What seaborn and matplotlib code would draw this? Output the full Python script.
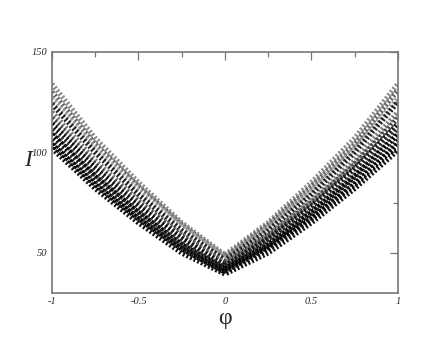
import numpy as np
import pandas as pd
import matplotlib
matplotlib.use("Agg")
import matplotlib.pyplot as plt
import seaborn as sns
from matplotlib.ticker import MultipleLocator

phi = [-1.0, -0.75, -0.5, -0.25, 0.0, 0.25, 0.5, 0.75, 1.0]

# I(phi) for each curve
c01 = [134, 107, 85, 65, 49, 65, 85, 107, 134]
c02 = [130, 104, 83, 64, 48, 64, 83, 104, 131]
c03 = [127, 102, 81, 63, 47.5, 63, 81, 102, 127]
c04 = [124, 100, 79, 61, 46.5, 61, 79, 100, 125]
c05 = [120, 96, 76, 59, 45, 59, 76, 96, 120]
c06 = [117, 94, 75, 58, 44, 58, 75, 94, 117]
c07 = [114, 92, 73, 57, 43.5, 57, 73, 92, 114]
c08 = [111, 89, 71, 55, 42.5, 55, 71, 89, 112]
c09 = [109, 88, 70, 54, 42, 54, 70, 88, 109]
c10 = [106, 86, 68, 53, 41, 53, 68, 86, 106]
c11 = [104, 84, 67, 52, 40.5, 52, 67, 84, 104]
c12 = [102, 82, 65, 50, 39.5, 50, 65, 82, 101]
curves = [c01, c02, c03, c04, c05, c06, c07, c08, c09, c10, c11, c12]
curve_names = ["c%02d" % (i + 1) for i in range(len(curves))]

x_ticks = [-1, -0.5, 0, 0.5, 1]
x_ticklabels = ["-1", "-0.5", "0", "0.5", "1"]
y_ticks = [50, 100, 150]
y_ticklabels = ["50", "100", "150"]

rows = []
for name, vals in zip(curve_names, curves):
    for p, v in zip(phi, vals):
        rows.append((name, p, v))
df = pd.DataFrame(rows, columns=["curve", "phi", "I"])

sns.set_style("white")
plt.rcParams["font.family"] = ["Liberation Serif", "DejaVu Serif"]

fig = plt.figure(figsize=(4.48, 3.46), dpi=100)
ax = fig.add_axes([0.116, 0.153, 0.772, 0.697])

# upper curves lighter, lower ones darker
grays = ["#8a8a8a", "#666666", "#999999", "#222222", "#777777", "#444444",
         "#111111", "#333333", "#000000", "#222222", "#000000", "#111111"]
sns.lineplot(data=df, x="phi", y="I", hue="curve", palette=grays,
             linewidth=3.8, legend=False, ax=ax, sort=False)
for line in ax.lines:
    line.set_linestyle((0, (0.38, 0.38)))
    line.set_dash_capstyle("butt")

ax.set_xlim(-1, 1)
ax.set_ylim(30, 150)
ax.set_xticks(x_ticks)
ax.set_xticklabels(x_ticklabels, fontstyle="italic", fontsize=7.5)
ax.set_yticks(y_ticks)
ax.set_yticklabels(y_ticklabels, fontstyle="italic", fontsize=7.5)
ax.xaxis.set_minor_locator(MultipleLocator(0.25))
ax.yaxis.set_minor_locator(MultipleLocator(25))
ax.tick_params(which="both", direction="in", top=True, right=True,
               color="#777777", width=0.9)
ax.tick_params(which="major", length=6, pad=3)
ax.tick_params(which="minor", length=3.5)
for s in ax.spines.values():
    s.set_color("#777777")
    s.set_linewidth(1.2)

ax.set_xlabel("\u03c6", fontsize=17, labelpad=1)
ax.set_ylabel("I", fontsize=17, fontstyle="italic", rotation=0,
              va="center", ha="center")
ax.yaxis.set_label_coords(-0.07, 0.55)

fig.savefig("out.png", dpi=100)
